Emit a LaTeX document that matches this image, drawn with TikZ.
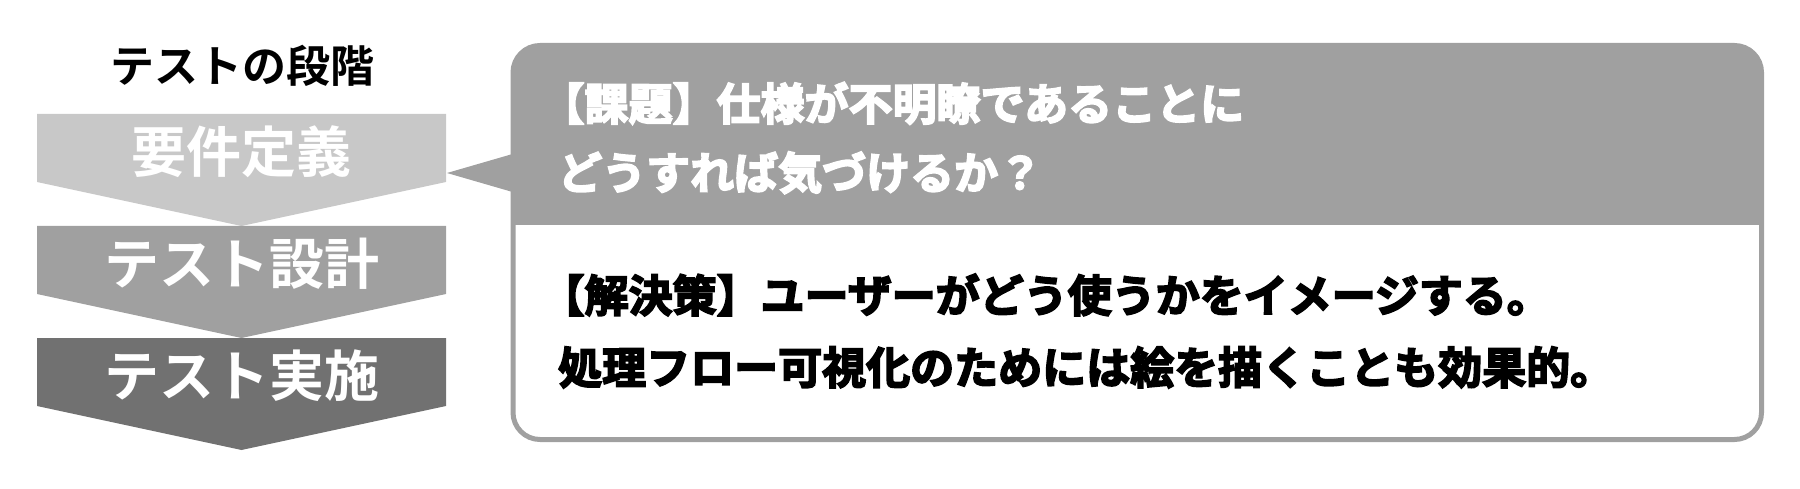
\documentclass[tikz,border=0pt]{standalone}
\usepackage{fontspec}
\setmainfont{Noto Sans CJK JP}
\newfontfamily\jpbold{Noto Sans CJK JP Bold}
\newfontfamily\jpheavy{Noto Sans CJK JP Bold}[FakeBold=4]
\usetikzlibrary{positioning}
\definecolor{stageone}{RGB}{200,200,200}
\definecolor{stagetwo}{RGB}{160,160,160}
\definecolor{stagethree}{RGB}{113,113,113}
\definecolor{callgray}{RGB}{160,160,160}
\newcommand{\lbrk}{\kern-0.4em【}
\tikzset{
  heading/.style={inner sep=0pt, text=black, font=\jpbold\fontsize{44}{50}\selectfont},
  stagelabel/.style={inner sep=0pt, text=white, font=\jpbold\fontsize{55}{60}\selectfont},
  issuetext/.style={inner sep=0pt, anchor=west, align=left, text=white, font=\jpheavy\fontsize{44}{69}\selectfont},
  answertext/.style={inner sep=0pt, anchor=west, align=left, text=black, font=\jpheavy\fontsize{44}{72}\selectfont},
  callframe/.style={draw=callgray, line width=5pt, rounded corners=27pt}
}
\begin{document}
\begin{tikzpicture}[x=1pt, y=-1pt]
  \useasboundingbox (0,0) rectangle (1800,489);

  % heading over the stages
  \node[heading] (title) at (242,66) {テストの段階};

  % stage chevrons
  \foreach \ytop/\col/\lbl/\nm in {114/stageone/要件定義/req, 226/stagetwo/テスト設計/design, 338/stagethree/テスト実施/exec}{
    \fill[\col] (37,\ytop) -- (446,\ytop) -- (446,\ytop+68) -- (241.5,\ytop+112) -- (37,\ytop+68) -- cycle;
    \node[stagelabel] (\nm) at (241.5,\ytop+38) {\lbl};
  }

  % callout box: grey header, white body
  \begin{scope}
    \clip[rounded corners=27pt] (513,45.5) rectangle (1761.5,439.5);
    \fill[white] (513,45.5) rectangle (1761.5,439.5);
    \fill[callgray] (513,45.5) rectangle (1761.5,225);
  \end{scope}
  \fill[callgray] (447,173) -- (516,153) -- (516,193) -- cycle;
  \draw[callframe] (513,45.5) rectangle (1761.5,439.5);

  % callout texts
  \node[issuetext] (issue) at (558,138) {\lbrk 課題】仕様が不明瞭であることに\\どうすれば気づけるか？};
  \node[answertext] (answer) at (558,331) {\lbrk 解決策】ユーザーがどう使うかをイメージする。\\処理フロー可視化のためには絵を描くことも効果的。};
\end{tikzpicture}
\end{document}
